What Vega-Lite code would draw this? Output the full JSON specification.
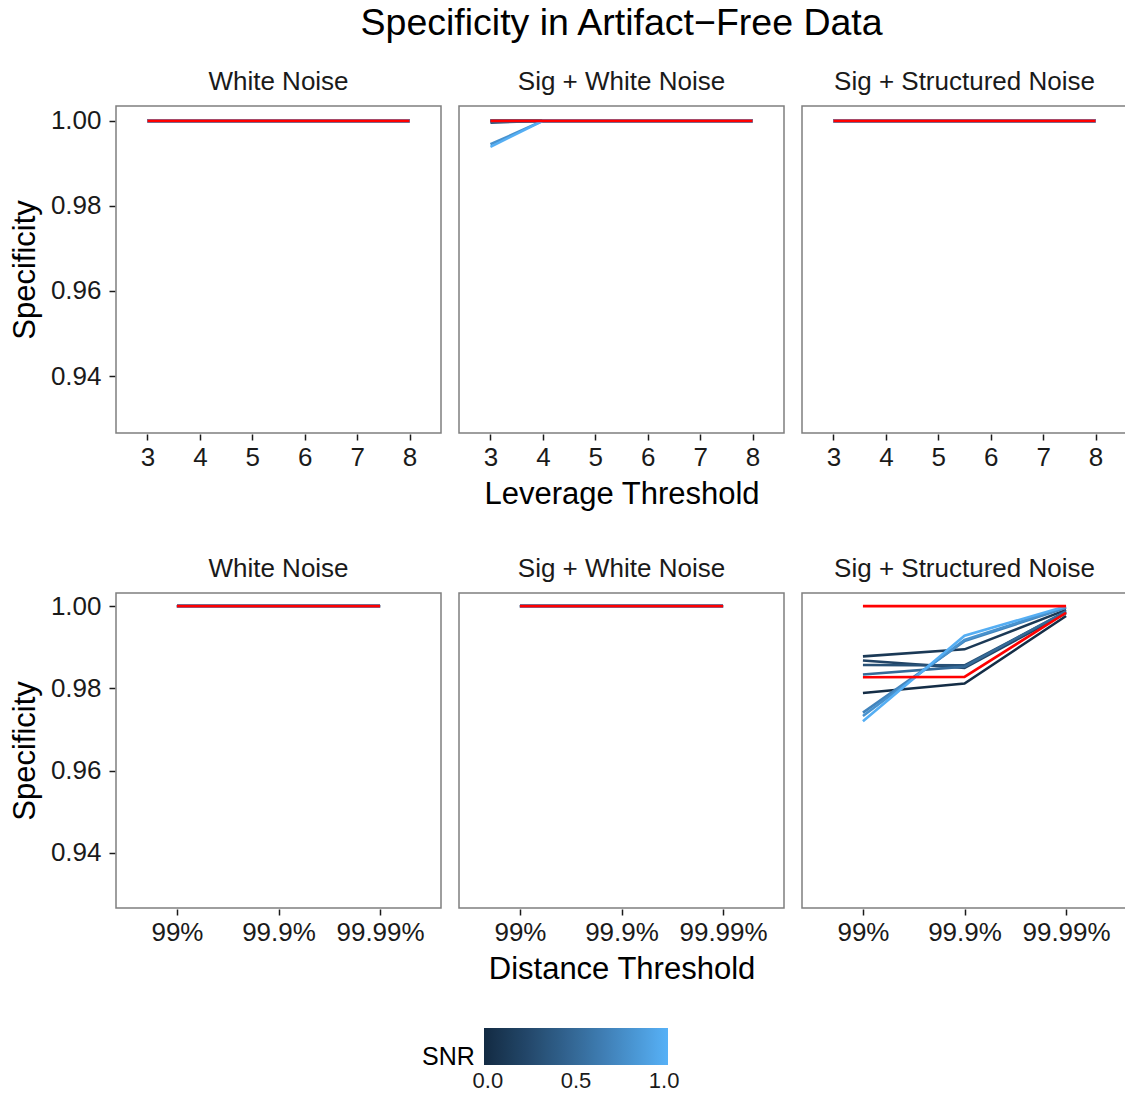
{
  "$schema": "https://vega.github.io/schema/vega-lite/v6.json",
  "padding": {"left": 9, "top": 4, "right": 0, "bottom": 0},
  "background": "white",
  "title": {"text": "Specificity in Artifact−Free Data", "fontSize": 37.5, "fontWeight": "normal", "color": "black", "anchor": "middle", "offset": 27, "dx": 53},
  "config": {
    "font": "Liberation Sans",
    "view": {"stroke": "#7F7F7F", "strokeWidth": 1.5},
    "axis": {"grid": false, "domain": false, "tickColor": "#1a1a1a", "tickSize": 6, "tickWidth": 1.5, "labelFontSize": 26, "labelColor": "#1a1a1a", "titleFontSize": 31, "titleFontWeight": "normal", "titleColor": "black", "labelPadding": 4, "titlePadding": 6},
    "axisY": {"labelPadding": 8, "titlePadding": 9},
    "header": {"labelFontSize": 26, "labelColor": "#1a1a1a", "labelPadding": 10, "labelOrient": "top", "titleOrient": "bottom", "titleFontSize": 31, "titleFontWeight": "normal", "titleColor": "black", "titlePadding": 0}
  },
  "datasets": {
    "lev": [
      {"panel":"White Noise","x":3,"y":1,"snr":0},{"panel":"White Noise","x":4,"y":1,"snr":0},{"panel":"White Noise","x":5,"y":1,"snr":0},{"panel":"White Noise","x":6,"y":1,"snr":0},{"panel":"White Noise","x":7,"y":1,"snr":0},{"panel":"White Noise","x":8,"y":1,"snr":0},
      {"panel":"White Noise","x":3,"y":1,"snr":0.1},{"panel":"White Noise","x":4,"y":1,"snr":0.1},{"panel":"White Noise","x":5,"y":1,"snr":0.1},{"panel":"White Noise","x":6,"y":1,"snr":0.1},{"panel":"White Noise","x":7,"y":1,"snr":0.1},{"panel":"White Noise","x":8,"y":1,"snr":0.1},
      {"panel":"White Noise","x":3,"y":1,"snr":0.2},{"panel":"White Noise","x":4,"y":1,"snr":0.2},{"panel":"White Noise","x":5,"y":1,"snr":0.2},{"panel":"White Noise","x":6,"y":1,"snr":0.2},{"panel":"White Noise","x":7,"y":1,"snr":0.2},{"panel":"White Noise","x":8,"y":1,"snr":0.2},
      {"panel":"White Noise","x":3,"y":1,"snr":0.3},{"panel":"White Noise","x":4,"y":1,"snr":0.3},{"panel":"White Noise","x":5,"y":1,"snr":0.3},{"panel":"White Noise","x":6,"y":1,"snr":0.3},{"panel":"White Noise","x":7,"y":1,"snr":0.3},{"panel":"White Noise","x":8,"y":1,"snr":0.3},
      {"panel":"White Noise","x":3,"y":1,"snr":0.5},{"panel":"White Noise","x":4,"y":1,"snr":0.5},{"panel":"White Noise","x":5,"y":1,"snr":0.5},{"panel":"White Noise","x":6,"y":1,"snr":0.5},{"panel":"White Noise","x":7,"y":1,"snr":0.5},{"panel":"White Noise","x":8,"y":1,"snr":0.5},
      {"panel":"White Noise","x":3,"y":1,"snr":0.7},{"panel":"White Noise","x":4,"y":1,"snr":0.7},{"panel":"White Noise","x":5,"y":1,"snr":0.7},{"panel":"White Noise","x":6,"y":1,"snr":0.7},{"panel":"White Noise","x":7,"y":1,"snr":0.7},{"panel":"White Noise","x":8,"y":1,"snr":0.7},
      {"panel":"White Noise","x":3,"y":1,"snr":0.8},{"panel":"White Noise","x":4,"y":1,"snr":0.8},{"panel":"White Noise","x":5,"y":1,"snr":0.8},{"panel":"White Noise","x":6,"y":1,"snr":0.8},{"panel":"White Noise","x":7,"y":1,"snr":0.8},{"panel":"White Noise","x":8,"y":1,"snr":0.8},
      {"panel":"White Noise","x":3,"y":1,"snr":1},{"panel":"White Noise","x":4,"y":1,"snr":1},{"panel":"White Noise","x":5,"y":1,"snr":1},{"panel":"White Noise","x":6,"y":1,"snr":1},{"panel":"White Noise","x":7,"y":1,"snr":1},{"panel":"White Noise","x":8,"y":1,"snr":1},
      {"panel":"Sig + White Noise","x":3,"y":1,"snr":0},{"panel":"Sig + White Noise","x":4,"y":1,"snr":0},{"panel":"Sig + White Noise","x":5,"y":1,"snr":0},{"panel":"Sig + White Noise","x":6,"y":1,"snr":0},{"panel":"Sig + White Noise","x":7,"y":1,"snr":0},{"panel":"Sig + White Noise","x":8,"y":1,"snr":0},
      {"panel":"Sig + White Noise","x":3,"y":1,"snr":0.1},{"panel":"Sig + White Noise","x":4,"y":1,"snr":0.1},{"panel":"Sig + White Noise","x":5,"y":1,"snr":0.1},{"panel":"Sig + White Noise","x":6,"y":1,"snr":0.1},{"panel":"Sig + White Noise","x":7,"y":1,"snr":0.1},{"panel":"Sig + White Noise","x":8,"y":1,"snr":0.1},
      {"panel":"Sig + White Noise","x":3,"y":1,"snr":0.2},{"panel":"Sig + White Noise","x":4,"y":1,"snr":0.2},{"panel":"Sig + White Noise","x":5,"y":1,"snr":0.2},{"panel":"Sig + White Noise","x":6,"y":1,"snr":0.2},{"panel":"Sig + White Noise","x":7,"y":1,"snr":0.2},{"panel":"Sig + White Noise","x":8,"y":1,"snr":0.2},
      {"panel":"Sig + White Noise","x":3,"y":0.9996,"snr":0.3},{"panel":"Sig + White Noise","x":4,"y":1,"snr":0.3},{"panel":"Sig + White Noise","x":5,"y":1,"snr":0.3},{"panel":"Sig + White Noise","x":6,"y":1,"snr":0.3},{"panel":"Sig + White Noise","x":7,"y":1,"snr":0.3},{"panel":"Sig + White Noise","x":8,"y":1,"snr":0.3},
      {"panel":"Sig + White Noise","x":3,"y":1,"snr":0.5},{"panel":"Sig + White Noise","x":4,"y":1,"snr":0.5},{"panel":"Sig + White Noise","x":5,"y":1,"snr":0.5},{"panel":"Sig + White Noise","x":6,"y":1,"snr":0.5},{"panel":"Sig + White Noise","x":7,"y":1,"snr":0.5},{"panel":"Sig + White Noise","x":8,"y":1,"snr":0.5},
      {"panel":"Sig + White Noise","x":3,"y":1,"snr":0.7},{"panel":"Sig + White Noise","x":4,"y":1,"snr":0.7},{"panel":"Sig + White Noise","x":5,"y":1,"snr":0.7},{"panel":"Sig + White Noise","x":6,"y":1,"snr":0.7},{"panel":"Sig + White Noise","x":7,"y":1,"snr":0.7},{"panel":"Sig + White Noise","x":8,"y":1,"snr":0.7},
      {"panel":"Sig + White Noise","x":3,"y":0.9945,"snr":0.8},{"panel":"Sig + White Noise","x":4,"y":1,"snr":0.8},{"panel":"Sig + White Noise","x":5,"y":1,"snr":0.8},{"panel":"Sig + White Noise","x":6,"y":1,"snr":0.8},{"panel":"Sig + White Noise","x":7,"y":1,"snr":0.8},{"panel":"Sig + White Noise","x":8,"y":1,"snr":0.8},
      {"panel":"Sig + White Noise","x":3,"y":0.9939,"snr":1},{"panel":"Sig + White Noise","x":4,"y":1,"snr":1},{"panel":"Sig + White Noise","x":5,"y":1,"snr":1},{"panel":"Sig + White Noise","x":6,"y":1,"snr":1},{"panel":"Sig + White Noise","x":7,"y":1,"snr":1},{"panel":"Sig + White Noise","x":8,"y":1,"snr":1},
      {"panel":"Sig + Structured Noise","x":3,"y":1,"snr":0},{"panel":"Sig + Structured Noise","x":4,"y":1,"snr":0},{"panel":"Sig + Structured Noise","x":5,"y":1,"snr":0},{"panel":"Sig + Structured Noise","x":6,"y":1,"snr":0},{"panel":"Sig + Structured Noise","x":7,"y":1,"snr":0},{"panel":"Sig + Structured Noise","x":8,"y":1,"snr":0},
      {"panel":"Sig + Structured Noise","x":3,"y":1,"snr":0.1},{"panel":"Sig + Structured Noise","x":4,"y":1,"snr":0.1},{"panel":"Sig + Structured Noise","x":5,"y":1,"snr":0.1},{"panel":"Sig + Structured Noise","x":6,"y":1,"snr":0.1},{"panel":"Sig + Structured Noise","x":7,"y":1,"snr":0.1},{"panel":"Sig + Structured Noise","x":8,"y":1,"snr":0.1},
      {"panel":"Sig + Structured Noise","x":3,"y":1,"snr":0.2},{"panel":"Sig + Structured Noise","x":4,"y":1,"snr":0.2},{"panel":"Sig + Structured Noise","x":5,"y":1,"snr":0.2},{"panel":"Sig + Structured Noise","x":6,"y":1,"snr":0.2},{"panel":"Sig + Structured Noise","x":7,"y":1,"snr":0.2},{"panel":"Sig + Structured Noise","x":8,"y":1,"snr":0.2},
      {"panel":"Sig + Structured Noise","x":3,"y":1,"snr":0.3},{"panel":"Sig + Structured Noise","x":4,"y":1,"snr":0.3},{"panel":"Sig + Structured Noise","x":5,"y":1,"snr":0.3},{"panel":"Sig + Structured Noise","x":6,"y":1,"snr":0.3},{"panel":"Sig + Structured Noise","x":7,"y":1,"snr":0.3},{"panel":"Sig + Structured Noise","x":8,"y":1,"snr":0.3},
      {"panel":"Sig + Structured Noise","x":3,"y":1,"snr":0.5},{"panel":"Sig + Structured Noise","x":4,"y":1,"snr":0.5},{"panel":"Sig + Structured Noise","x":5,"y":1,"snr":0.5},{"panel":"Sig + Structured Noise","x":6,"y":1,"snr":0.5},{"panel":"Sig + Structured Noise","x":7,"y":1,"snr":0.5},{"panel":"Sig + Structured Noise","x":8,"y":1,"snr":0.5},
      {"panel":"Sig + Structured Noise","x":3,"y":1,"snr":0.7},{"panel":"Sig + Structured Noise","x":4,"y":1,"snr":0.7},{"panel":"Sig + Structured Noise","x":5,"y":1,"snr":0.7},{"panel":"Sig + Structured Noise","x":6,"y":1,"snr":0.7},{"panel":"Sig + Structured Noise","x":7,"y":1,"snr":0.7},{"panel":"Sig + Structured Noise","x":8,"y":1,"snr":0.7},
      {"panel":"Sig + Structured Noise","x":3,"y":1,"snr":0.8},{"panel":"Sig + Structured Noise","x":4,"y":1,"snr":0.8},{"panel":"Sig + Structured Noise","x":5,"y":1,"snr":0.8},{"panel":"Sig + Structured Noise","x":6,"y":1,"snr":0.8},{"panel":"Sig + Structured Noise","x":7,"y":1,"snr":0.8},{"panel":"Sig + Structured Noise","x":8,"y":1,"snr":0.8},
      {"panel":"Sig + Structured Noise","x":3,"y":1,"snr":1},{"panel":"Sig + Structured Noise","x":4,"y":1,"snr":1},{"panel":"Sig + Structured Noise","x":5,"y":1,"snr":1},{"panel":"Sig + Structured Noise","x":6,"y":1,"snr":1},{"panel":"Sig + Structured Noise","x":7,"y":1,"snr":1},{"panel":"Sig + Structured Noise","x":8,"y":1,"snr":1},
      {"panel":"White Noise","x":3,"y":1,"ref":"A"},{"panel":"White Noise","x":4,"y":1,"ref":"A"},{"panel":"White Noise","x":5,"y":1,"ref":"A"},{"panel":"White Noise","x":6,"y":1,"ref":"A"},{"panel":"White Noise","x":7,"y":1,"ref":"A"},{"panel":"White Noise","x":8,"y":1,"ref":"A"},
      {"panel":"Sig + White Noise","x":3,"y":1,"ref":"A"},{"panel":"Sig + White Noise","x":4,"y":1,"ref":"A"},{"panel":"Sig + White Noise","x":5,"y":1,"ref":"A"},{"panel":"Sig + White Noise","x":6,"y":1,"ref":"A"},{"panel":"Sig + White Noise","x":7,"y":1,"ref":"A"},{"panel":"Sig + White Noise","x":8,"y":1,"ref":"A"},
      {"panel":"Sig + Structured Noise","x":3,"y":1,"ref":"A"},{"panel":"Sig + Structured Noise","x":4,"y":1,"ref":"A"},{"panel":"Sig + Structured Noise","x":5,"y":1,"ref":"A"},{"panel":"Sig + Structured Noise","x":6,"y":1,"ref":"A"},{"panel":"Sig + Structured Noise","x":7,"y":1,"ref":"A"},{"panel":"Sig + Structured Noise","x":8,"y":1,"ref":"A"}
    ],
    "dist": [
      {"panel":"White Noise","x":"99%","y":1,"snr":0},{"panel":"White Noise","x":"99.9%","y":1,"snr":0},{"panel":"White Noise","x":"99.99%","y":1,"snr":0},
      {"panel":"White Noise","x":"99%","y":1,"snr":0.1},{"panel":"White Noise","x":"99.9%","y":1,"snr":0.1},{"panel":"White Noise","x":"99.99%","y":1,"snr":0.1},
      {"panel":"White Noise","x":"99%","y":1,"snr":0.2},{"panel":"White Noise","x":"99.9%","y":1,"snr":0.2},{"panel":"White Noise","x":"99.99%","y":1,"snr":0.2},
      {"panel":"White Noise","x":"99%","y":1,"snr":0.3},{"panel":"White Noise","x":"99.9%","y":1,"snr":0.3},{"panel":"White Noise","x":"99.99%","y":1,"snr":0.3},
      {"panel":"White Noise","x":"99%","y":1,"snr":0.5},{"panel":"White Noise","x":"99.9%","y":1,"snr":0.5},{"panel":"White Noise","x":"99.99%","y":1,"snr":0.5},
      {"panel":"White Noise","x":"99%","y":1,"snr":0.7},{"panel":"White Noise","x":"99.9%","y":1,"snr":0.7},{"panel":"White Noise","x":"99.99%","y":1,"snr":0.7},
      {"panel":"White Noise","x":"99%","y":1,"snr":0.8},{"panel":"White Noise","x":"99.9%","y":1,"snr":0.8},{"panel":"White Noise","x":"99.99%","y":1,"snr":0.8},
      {"panel":"White Noise","x":"99%","y":1,"snr":1},{"panel":"White Noise","x":"99.9%","y":1,"snr":1},{"panel":"White Noise","x":"99.99%","y":1,"snr":1},
      {"panel":"Sig + White Noise","x":"99%","y":1,"snr":0},{"panel":"Sig + White Noise","x":"99.9%","y":1,"snr":0},{"panel":"Sig + White Noise","x":"99.99%","y":1,"snr":0},
      {"panel":"Sig + White Noise","x":"99%","y":1,"snr":0.1},{"panel":"Sig + White Noise","x":"99.9%","y":1,"snr":0.1},{"panel":"Sig + White Noise","x":"99.99%","y":1,"snr":0.1},
      {"panel":"Sig + White Noise","x":"99%","y":1,"snr":0.2},{"panel":"Sig + White Noise","x":"99.9%","y":1,"snr":0.2},{"panel":"Sig + White Noise","x":"99.99%","y":1,"snr":0.2},
      {"panel":"Sig + White Noise","x":"99%","y":1,"snr":0.3},{"panel":"Sig + White Noise","x":"99.9%","y":1,"snr":0.3},{"panel":"Sig + White Noise","x":"99.99%","y":1,"snr":0.3},
      {"panel":"Sig + White Noise","x":"99%","y":1,"snr":0.5},{"panel":"Sig + White Noise","x":"99.9%","y":1,"snr":0.5},{"panel":"Sig + White Noise","x":"99.99%","y":1,"snr":0.5},
      {"panel":"Sig + White Noise","x":"99%","y":1,"snr":0.7},{"panel":"Sig + White Noise","x":"99.9%","y":1,"snr":0.7},{"panel":"Sig + White Noise","x":"99.99%","y":1,"snr":0.7},
      {"panel":"Sig + White Noise","x":"99%","y":1,"snr":0.8},{"panel":"Sig + White Noise","x":"99.9%","y":1,"snr":0.8},{"panel":"Sig + White Noise","x":"99.99%","y":1,"snr":0.8},
      {"panel":"Sig + White Noise","x":"99%","y":1,"snr":1},{"panel":"Sig + White Noise","x":"99.9%","y":1,"snr":1},{"panel":"Sig + White Noise","x":"99.99%","y":1,"snr":1},
      {"panel":"Sig + Structured Noise","x":"99%","y":0.9789,"snr":0},{"panel":"Sig + Structured Noise","x":"99.9%","y":0.9812,"snr":0},{"panel":"Sig + Structured Noise","x":"99.99%","y":0.9976,"snr":0},
      {"panel":"Sig + Structured Noise","x":"99%","y":0.9878,"snr":0.1},{"panel":"Sig + Structured Noise","x":"99.9%","y":0.9895,"snr":0.1},{"panel":"Sig + Structured Noise","x":"99.99%","y":0.9991,"snr":0.1},
      {"panel":"Sig + Structured Noise","x":"99%","y":0.9868,"snr":0.2},{"panel":"Sig + Structured Noise","x":"99.9%","y":0.985,"snr":0.2},{"panel":"Sig + Structured Noise","x":"99.99%","y":0.9983,"snr":0.2},
      {"panel":"Sig + Structured Noise","x":"99%","y":0.9857,"snr":0.3},{"panel":"Sig + Structured Noise","x":"99.9%","y":0.9856,"snr":0.3},{"panel":"Sig + Structured Noise","x":"99.99%","y":0.9986,"snr":0.3},
      {"panel":"Sig + Structured Noise","x":"99%","y":0.9834,"snr":0.5},{"panel":"Sig + Structured Noise","x":"99.9%","y":0.9853,"snr":0.5},{"panel":"Sig + Structured Noise","x":"99.99%","y":0.9988,"snr":0.5},
      {"panel":"Sig + Structured Noise","x":"99%","y":0.9741,"snr":0.7},{"panel":"Sig + Structured Noise","x":"99.9%","y":0.9915,"snr":0.7},{"panel":"Sig + Structured Noise","x":"99.99%","y":0.9996,"snr":0.7},
      {"panel":"Sig + Structured Noise","x":"99%","y":0.9733,"snr":0.8},{"panel":"Sig + Structured Noise","x":"99.9%","y":0.9918,"snr":0.8},{"panel":"Sig + Structured Noise","x":"99.99%","y":0.9998,"snr":0.8},
      {"panel":"Sig + Structured Noise","x":"99%","y":0.972,"snr":1},{"panel":"Sig + Structured Noise","x":"99.9%","y":0.9928,"snr":1},{"panel":"Sig + Structured Noise","x":"99.99%","y":1,"snr":1},
      {"panel":"White Noise","x":"99%","y":1,"ref":"A"},{"panel":"White Noise","x":"99.9%","y":1,"ref":"A"},{"panel":"White Noise","x":"99.99%","y":1,"ref":"A"},
      {"panel":"Sig + White Noise","x":"99%","y":1,"ref":"A"},{"panel":"Sig + White Noise","x":"99.9%","y":1,"ref":"A"},{"panel":"Sig + White Noise","x":"99.99%","y":1,"ref":"A"},
      {"panel":"Sig + Structured Noise","x":"99%","y":1,"ref":"A"},{"panel":"Sig + Structured Noise","x":"99.9%","y":1,"ref":"A"},{"panel":"Sig + Structured Noise","x":"99.99%","y":1,"ref":"A"},
      {"panel":"Sig + Structured Noise","x":"99%","y":0.9827,"ref":"B"},{"panel":"Sig + Structured Noise","x":"99.9%","y":0.9828,"ref":"B"},{"panel":"Sig + Structured Noise","x":"99.99%","y":0.9984,"ref":"B"}
    ]
  },
  "spacing": 46,
  "vconcat": [
    {
      "data": {"name": "lev"},
      "facet": {"column": {"field": "panel", "type": "nominal", "sort": ["White Noise", "Sig + White Noise", "Sig + Structured Noise"], "header": {"title": "Leverage Threshold"}}},
      "spacing": {"column": 16},
      "spec": {
        "width": 325, "height": 327,
        "layer": [
          {
            "transform": [{"filter": "isValid(datum.snr)"}],
            "mark": {"type": "line", "strokeWidth": 2.6},
            "encoding": {
              "x": {"field": "x", "type": "ordinal", "scale": {"type": "point", "padding": 0.6}, "axis": {"title": null, "labelAngle": 0}},
              "y": {"field": "y", "type": "quantitative", "scale": {"domain": [0.9266, 1.0035], "nice": false, "zero": false}, "axis": {"title": "Specificity", "values": [0.94, 0.96, 0.98, 1.0], "format": ".2f"}},
              "color": {"field": "snr", "type": "quantitative", "scale": {"domain": [-0.022, 1.022], "range": ["#132B43", "#56B1F7"]},
                "legend": {"title": "SNR", "orient": "none", "direction": "horizontal", "titleOrient": "left", "titleAnchor": "end", "titlePadding": 9, "gradientLength": 184, "gradientThickness": 37, "legendX": 306, "legendY": 922, "titleFontSize": 25, "titleFontWeight": "normal", "titleColor": "black", "titleBaseline": "alphabetic", "labelFontSize": 22, "labelColor": "#1a1a1a", "labelOffset": 6, "values": [0, 0.5, 1], "format": ".1f", "gradientStrokeWidth": 0}},
              "detail": {"field": "snr"}
            }
          },
          {
            "transform": [{"filter": "isValid(datum.ref)"}],
            "mark": {"type": "line", "strokeWidth": 2.6, "color": "#FF0000"},
            "encoding": {
              "x": {"field": "x", "type": "ordinal"},
              "y": {"field": "y", "type": "quantitative"},
              "detail": {"field": "ref"}
            }
          }
        ]
      }
    },
    {
      "data": {"name": "dist"},
      "facet": {"column": {"field": "panel", "type": "nominal", "sort": ["White Noise", "Sig + White Noise", "Sig + Structured Noise"], "header": {"title": "Distance Threshold"}}},
      "spacing": {"column": 16},
      "spec": {
        "width": 325, "height": 315,
        "layer": [
          {
            "transform": [{"filter": "isValid(datum.snr)"}],
            "mark": {"type": "line", "strokeWidth": 2.6},
            "encoding": {
              "x": {"field": "x", "type": "ordinal", "sort": ["99%", "99.9%", "99.99%"], "scale": {"type": "point", "padding": 0.6}, "axis": {"title": null, "labelAngle": 0}},
              "y": {"field": "y", "type": "quantitative", "scale": {"domain": [0.9266, 1.0032], "nice": false, "zero": false}, "axis": {"title": "Specificity", "values": [0.94, 0.96, 0.98, 1.0], "format": ".2f"}},
              "color": {"field": "snr", "type": "quantitative", "scale": {"domain": [-0.022, 1.022], "range": ["#132B43", "#56B1F7"]}, "legend": null},
              "detail": {"field": "snr"}
            }
          },
          {
            "transform": [{"filter": "isValid(datum.ref)"}],
            "mark": {"type": "line", "strokeWidth": 2.6, "color": "#FF0000"},
            "encoding": {
              "x": {"field": "x", "type": "ordinal", "sort": ["99%", "99.9%", "99.99%"]},
              "y": {"field": "y", "type": "quantitative"},
              "detail": {"field": "ref"}
            }
          }
        ]
      }
    }
  ]
}
